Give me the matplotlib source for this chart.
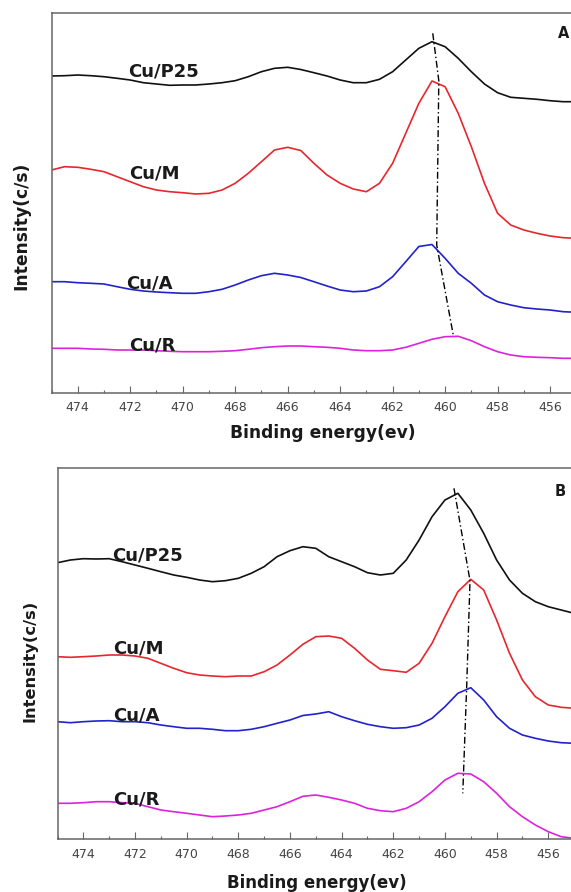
import numpy as np
import matplotlib
matplotlib.use("Agg")
import matplotlib.pyplot as plt
from matplotlib.ticker import MultipleLocator

# ---------------- data ----------------
energy = [475.0 - 0.5 * i for i in range(41)]  # 475 ... 455 (binding energy, eV)

# Panel A (arbitrary intensity units, offset stacked)
a_p25 = [317, 317.3, 318, 317.3, 316.3, 314.7, 313, 310.3, 309, 307.7,
         308, 308, 309, 310.3, 312.3, 316.3, 321.3, 324.7, 325.7, 323.5,
         320.3, 317, 313, 310.3, 310.3, 313.7, 321.3, 333, 344.7, 351.3,
         346.3, 334.7, 321.3, 309, 300.3, 295.7, 294.7, 293.7, 292.3, 291.3, 291.3]
a_m = [223, 226.3, 225.7, 223.7, 221.3, 216.3, 211.3, 206.3, 203, 201.3,
       200.3, 199, 199.7, 203, 209.7, 219.7, 231.3, 243, 245.7, 242.5,
       229.7, 218, 209.7, 204, 201.3, 209.7, 229.7, 259.7, 289.7, 312,
       306.3, 279.7, 246.3, 209.7, 179.7, 168, 163, 159.7, 157, 155.3, 154.7]
a_a = [111.3, 111.3, 110.3, 109.7, 109, 106.3, 103.7, 102, 101, 100.3,
       99.7, 99.7, 101.3, 103.7, 108, 113, 117.3, 119.7, 118, 115.5,
       111.3, 107, 103, 101.3, 102, 106.3, 116.3, 131.3, 146.5, 148.5,
       134.7, 119.7, 109.7, 98, 91.3, 88, 85.3, 84, 83, 81.3, 80.7]
a_r = [44.7, 44.7, 44.7, 44, 43.7, 43, 43, 43, 42.3, 41.7,
       41.3, 41.3, 41.3, 41.7, 42.3, 43.7, 45.3, 46.3, 47, 47,
       46.3, 45.7, 44.7, 43, 42.3, 42.3, 43, 45.7, 49.7, 53.7,
       56.3, 56.7, 52.3, 46.3, 41.3, 38, 36.3, 35.7, 35.3, 34.7, 34.7]
a_peak_x = [460.47, 460.24, 460.32, 459.69]
a_peak_y = [359.7, 312.3, 148, 58]

# Panel B
b_p25 = [276.6, 279.3, 280.6, 280.3, 280.6, 277.6, 274.3, 271, 267.6, 264.3,
         262, 259.3, 257.6, 258.6, 261, 266, 272.6, 282.6, 288.6, 292.6,
         291, 282.6, 277.6, 272.6, 266.6, 264.3, 266, 279.3, 299.3, 322.6,
         339.3, 346, 329.3, 306, 279.3, 259.3, 246, 237.6, 232.6, 229.3, 226]
b_m = [182.6, 182, 182.6, 183.3, 184.3, 184.3, 183.3, 181, 176, 171,
       166.6, 164.3, 163.3, 162.6, 163.3, 163.3, 167.6, 174.3, 184.3, 195,
       202.6, 203.3, 201, 191, 179.3, 170, 168.6, 167, 176, 196,
       222.6, 247.6, 260, 249.3, 219.3, 186, 159.3, 142.6, 134.3, 132, 131]
b_a = [117.6, 116.6, 117.6, 118.3, 118.6, 117.6, 117.6, 116.6, 114.3, 112.6,
       111, 111, 110, 108.6, 108.6, 110, 112.6, 116, 119.3, 123.8,
       125.3, 127.6, 122.6, 118.6, 115, 112.6, 111, 111.6, 114.3, 121,
       132.6, 146, 151.6, 139.3, 122.6, 111, 104.3, 101, 98.3, 96.6, 96]
b_r = [36, 36, 36.6, 37.6, 37.6, 36.6, 36, 32.6, 29.3, 27.6,
       26, 24.3, 22.6, 23.3, 24.3, 26, 29.3, 32.6, 37.6, 43,
       44.3, 42, 39.3, 36, 31, 28.6, 27.6, 31, 37.6, 47.6,
       59.3, 66, 65.3, 57.6, 46, 32.6, 22.6, 14.3, 7.6, 2.6, 1]
b_peak_x = [459.65, 459.03, 459.16, 459.31]
b_peak_y = [351, 258.6, 151.6, 46]

sample_names = ["Cu/P25", "Cu/M", "Cu/A", "Cu/R"]
colors = ["#111111", "#e8262e", "#2222cc", "#dd22dd"]

# ---------------- figure ----------------
W, H = 571, 892
fig = plt.figure(figsize=(W / 100, H / 100), dpi=100)
fig.patch.set_facecolor("white")

def px_ax(left, top, width, bottom):
    return fig.add_axes([left / W, (H - bottom) / H, width / W, (bottom - top) / H])

axA = px_ax(51.5, 12.7, 20.5 * 26.24, 393)
axB = px_ax(57.5, 468.3, 20.5 * 25.83, 839.3)

panels = [
    (axA, [a_p25, a_m, a_a, a_r], a_peak_x, a_peak_y, 380.3,
     [(472.08, 321), (472.03, 220), (472.16, 110), (472.03, 48)], "A", (455.7, 360)),
    (axB, [b_p25, b_m, b_a, b_r], b_peak_x, b_peak_y, 371,
     [(472.9, 284.3), (472.86, 191), (472.86, 124.3), (472.86, 39.3)], "B", (455.74, 347.6)),
]

spine_col = "#666666"
for ax, series, px, py, ytop, labpos, letter, letpos in panels:
    for ys, c in zip(series, colors):
        ax.plot(energy, ys, color=c, lw=1.2)
    ax.plot(px, py, color="black", lw=1.0, linestyle=(0, (5, 2, 1, 2)))
    for name, (lx, ly) in zip(sample_names, labpos):
        ax.text(lx, ly, name, fontsize=13, fontweight="bold", color="#1a1a1a",
                ha="left", va="center")
    ax.text(letpos[0], letpos[1], letter, fontsize=10.5, fontweight="bold",
            color="#1a1a1a", ha="left", va="center")
    ax.set_xlim(475, 454.5)
    ax.set_ylim(0, ytop)
    ax.xaxis.set_major_locator(MultipleLocator(2))
    ax.xaxis.set_minor_locator(MultipleLocator(1))
    ax.set_yticks([])
    ax.tick_params(axis="x", which="major", direction="in", length=5, width=0.8,
                   color=spine_col, labelsize=9, labelcolor="#444444", pad=6)
    ax.tick_params(axis="x", which="minor", direction="in", length=2.5, width=0.8,
                   color=spine_col)
    ax.tick_params(axis="x", top=False, which="both")
    for s in ax.spines.values():
        s.set_color(spine_col)
        s.set_linewidth(1.1)

def ftext(x, y, s, **kw):
    fig.text(x / W, 1 - y / H, s, **kw)

ftext(322.5, 433, "Binding energy(ev)", fontsize=12.3, fontweight="bold",
      color="#1a1a1a", ha="center", va="center")
ftext(316.7, 883, "Binding energy(ev)", fontsize=12, fontweight="bold",
      color="#1a1a1a", ha="center", va="center")
ftext(21.7, 226, "Intensity(c/s)", fontsize=12.3, fontweight="bold",
      color="#1a1a1a", ha="center", va="center", rotation=90)
ftext(30, 661, "Intensity(c/s)", fontsize=11.7, fontweight="bold",
      color="#1a1a1a", ha="center", va="center", rotation=90)

fig.savefig("out.png", dpi=100)
